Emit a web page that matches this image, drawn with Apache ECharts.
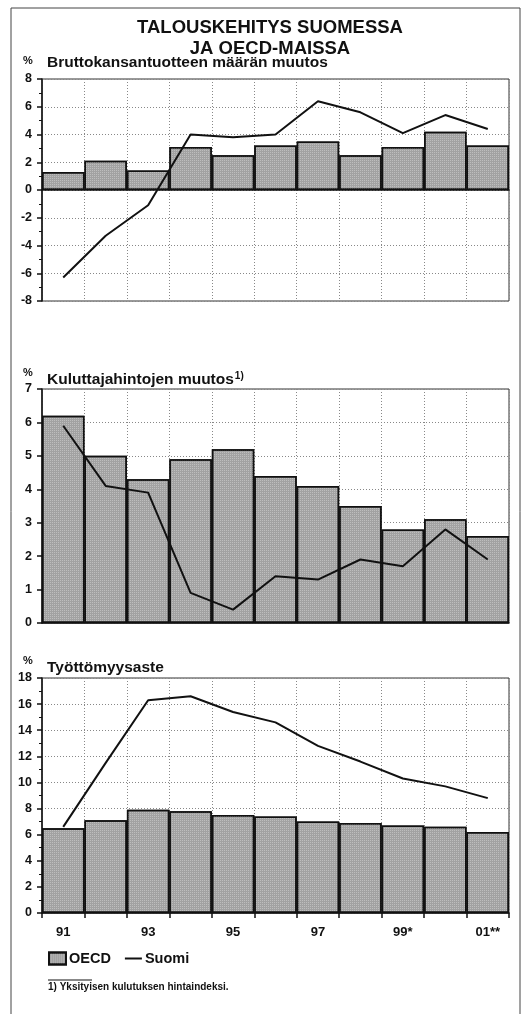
<!DOCTYPE html>
<html>
<head>
<meta charset="utf-8">
<script src="https://cdn.jsdelivr.net/npm/echarts@6/dist/echarts.min.js"></script>
<style>
  html, body { margin: 0; padding: 0; background: #fff; }
  #chart { width: 524px; height: 1014px; }
</style>
</head>
<body>
<div id="chart"></div>
<script>
const years = ['91', '92', '93', '94', '95', '96', '97', '98', '99*', '00*', '01**']

// Bruttokansantuotteen määrän muutos, %
const gdpOecd = [1.3, 2.1, 1.4, 3.1, 2.5, 3.2, 3.5, 2.5, 3.1, 4.2, 3.2]
const gdpSuomi = [-6.3, -3.3, -1.1, 4.0, 3.8, 4.0, 6.4, 5.6, 4.1, 5.4, 4.4]

// Kuluttajahintojen muutos, %
const cpiOecd = [6.2, 5.0, 4.3, 4.9, 5.2, 4.4, 4.1, 3.5, 2.8, 3.1, 2.6]
const cpiSuomi = [5.9, 4.1, 3.9, 0.9, 0.4, 1.4, 1.3, 1.9, 1.7, 2.8, 1.9]

// Työttömyysaste, %
const unempOecd = [6.5, 7.1, 7.9, 7.8, 7.5, 7.4, 7.0, 6.9, 6.7, 6.6, 6.2]
const unempSuomi = [6.6, 11.5, 16.3, 16.6, 15.4, 14.6, 12.8, 11.6, 10.3, 9.7, 8.8]

const font = "'Liberation Sans', Arial, sans-serif"
const ink = '#111'

const chart = echarts.init(document.getElementById('chart'), null, { renderer: 'canvas' })

const grids = [
    { left: 42, right: 15, top: 79, height: 222 },
    { left: 42, right: 15, top: 389, height: 234 },
    { left: 42, right: 15, top: 678, height: 235 }
].map(g => Object.assign(g, {
    show: true,
    borderColor: '#333',
    borderWidth: 1,
    backgroundColor: 'transparent'
}))

const makeX = (i, labels) => ({
    type: 'category',
    gridIndex: i,
    data: years,
    boundaryGap: true,
    axisLine: { show: true, onZero: true, lineStyle: { color: ink, width: 1.5 } },
    axisTick: { show: labels, interval: 0, length: 5, lineStyle: { color: ink, width: 1.5 } },
    axisLabel: {
        show: labels,
        interval: 1,
        margin: 13,
        fontFamily: font,
        fontWeight: 'bold',
        fontSize: 13,
        color: ink
    },
    splitLine: {
        show: true,
        interval: 0,
        lineStyle: { color: '#888', type: [1, 2], width: 1 }
    }
})

const makeY = (i, min, max, step, minor) => ({
    type: 'value',
    gridIndex: i,
    min: min,
    max: max,
    interval: step,
    axisLine: { show: true, lineStyle: { color: ink, width: 1.5 } },
    axisTick: { show: true, length: 5, lineStyle: { color: ink, width: 1.5 } },
    minorTick: { show: minor, splitNumber: 2, length: 3, lineStyle: { color: ink, width: 1 } },
    axisLabel: {
        margin: 10,
        fontFamily: font,
        fontWeight: 'bold',
        fontSize: 12.5,
        color: ink
    },
    splitLine: {
        show: true,
        lineStyle: { color: '#888', type: [1, 2], width: 1 }
    }
})

// halftone-ish fill like the printed original
const barStyle = {
    color: '#a2a2a2',
    borderColor: ink,
    borderWidth: 1.5,
    decal: {
        symbol: 'rect',
        symbolSize: 1,
        color: 'rgba(255,255,255,0.3)',
        dashArrayX: [1, 1],
        dashArrayY: [1, 1],
        rotation: 0
    }
}

const makeBar = (i, data) => ({
    name: 'OECD',
    type: 'bar',
    xAxisIndex: i,
    yAxisIndex: i,
    data: data,
    barCategoryGap: '0%',
    itemStyle: barStyle
})

const makeLine = (i, data) => ({
    name: 'Suomi',
    type: 'line',
    xAxisIndex: i,
    yAxisIndex: i,
    data: data,
    symbol: 'none',
    z: 5,
    lineStyle: { color: ink, width: 2 },
    itemStyle: { color: ink }
})

const subTitle = (text, top) => ({
    text: text,
    left: 47,
    top: top,
    padding: 0,
    textStyle: {
        fontFamily: font,
        fontWeight: 'bold',
        fontSize: 15.5,
        color: ink,
        rich: {
            s: { fontFamily: font, fontWeight: 'bold', fontSize: 10, color: ink, verticalAlign: 'top', padding: [0, 0, 8, 1] }
        }
    }
})

const pct = (top) => ({
    type: 'text',
    left: 23,
    top: top,
    style: { text: '%', fontFamily: font, fontWeight: 'bold', fontSize: 11, fill: ink }
})

const option = {
    animation: false,
    backgroundColor: '#fff',
    title: [
        {
            text: 'TALOUSKEHITYS SUOMESSA\nJA OECD-MAISSA',
            left: 270,
            top: 18,
            padding: 0,
            textAlign: 'center',
            textStyle: {
                fontFamily: font,
                fontWeight: 'bold',
                fontSize: 18.5,
                lineHeight: 20.5,
                color: ink
            }
        },
        subTitle('Bruttokansantuotteen määrän muutos', 55),
        subTitle('Kuluttajahintojen muutos{s|1)}', 371),
        subTitle('Työttömyysaste', 660)
    ],
    legend: {
        left: 48,
        top: 951,
        padding: 0,
        itemWidth: 17,
        itemHeight: 12,
        itemGap: 13,
        textStyle: { fontFamily: font, fontWeight: 'bold', fontSize: 14.5, color: ink, padding: [0, 0, 0, -2] },
        data: [
            { name: 'OECD', icon: 'rect' },
            { name: 'Suomi', itemStyle: { opacity: 0 } }
        ]
    },
    grid: grids,
    xAxis: [makeX(0, false), makeX(1, false), makeX(2, true)],
    yAxis: [
        makeY(0, -8, 8, 2, true),
        makeY(1, 0, 7, 1, false),
        makeY(2, 0, 18, 2, true)
    ],
    series: [
        makeBar(0, gdpOecd), makeLine(0, gdpSuomi),
        makeBar(1, cpiOecd), makeLine(1, cpiSuomi),
        makeBar(2, unempOecd), makeLine(2, unempSuomi)
    ],
    graphic: [
        {
            type: 'rect',
            shape: { x: 11, y: 8, width: 509, height: 1012 },
            style: { fill: 'none', stroke: '#444', lineWidth: 1 },
            silent: true
        },
        pct(55),
        pct(367),
        pct(655),
        {
            type: 'line',
            shape: { x1: 48, y1: 980, x2: 92, y2: 980 },
            style: { stroke: ink, lineWidth: 1 }
        },
        {
            type: 'text',
            left: 48,
            top: 982,
            style: {
                text: '1) Yksityisen kulutuksen hintaindeksi.',
                fontFamily: font,
                fontWeight: 'bold',
                fontSize: 10,
                fill: ink
            }
        }
    ]
}

chart.setOption(option)
</script>
</body>
</html>
